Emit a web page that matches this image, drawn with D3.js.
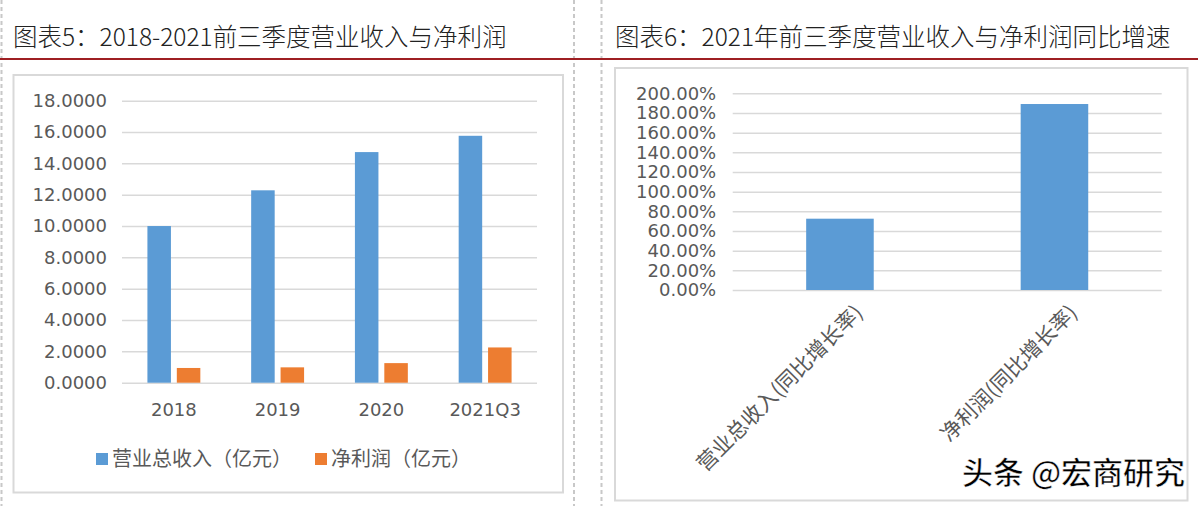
<!DOCTYPE html>
<html>
<head>
<meta charset="utf-8">
<script src="https://cdn.jsdelivr.net/npm/d3@7"></script>
<style>
  body { margin: 0; background: #fff; }
  svg { display: block; }
</style>
</head>
<body>
<svg id="chart" width="1198" height="506"></svg>
<script>
// chart 5: revenue and net profit (亿元)
const years = ["2018", "2019", "2020", "2021Q3"];
const revenue = [10.0, 12.28, 14.72, 15.76];
const netProfit = [0.94, 0.98, 1.25, 2.25];
const leftTicks = [0, 2, 4, 6, 8, 10, 12, 14, 16, 18];
const seriesNames = ["营业总收入（亿元）", "净利润（亿元）"];

// chart 6: yoy growth
const growthCats = ["营业总收入(同比增长率)", "净利润(同比增长率)"];
const growth = [0.725, 1.891];
const rightTicks = [0, 0.2, 0.4, 0.6, 0.8, 1.0, 1.2, 1.4, 1.6, 1.8, 2.0];

const titles = ["图表5：2018-2021前三季度营业收入与净利润", "图表6：2021年前三季度营业收入与净利润同比增速"];

const blue = "#5b9bd5", orange = "#ed7d31";
const grid = "#d9d9d9", labelCol = "#595959";
const cjk = "'Noto Sans CJK SC', sans-serif";
const num = "'DejaVu Sans', sans-serif";

const svg = d3.select("#chart");

// panel frames
[1.5, 574, 601.5].forEach(x => {
  svg.append("line")
    .attr("x1", x).attr("x2", x).attr("y1", 0).attr("y2", 506)
    .attr("stroke", "#c8c8c8").attr("stroke-width", 2)
    .attr("stroke-dasharray", "4,3");
});
svg.append("line")
  .attr("x1", 0).attr("x2", 1198).attr("y1", 59).attr("y2", 59)
  .attr("stroke", "#9e1f23").attr("stroke-width", 2);

svg.append("rect")
  .attr("x", 13.5).attr("y", 75).attr("width", 549.5).attr("height", 417.5)
  .attr("fill", "none").attr("stroke", grid).attr("stroke-width", 2);
svg.append("rect")
  .attr("x", 615).attr("y", 68).attr("width", 572.5).attr("height", 432.5)
  .attr("fill", "none").attr("stroke", grid).attr("stroke-width", 2);

svg.selectAll(".title")
  .data(titles)
  .join("text")
  .attr("class", "title")
  .attr("x", (d, i) => i ? 615 : 13)
  .attr("y", 46)
  .attr("font-family", cjk)
  .attr("font-size", 24.5)
  .attr("font-weight", 300)
  .attr("fill", "#222")
  .text(d => d);

function styleAxis(g) {
  g.select(".domain").remove();
  g.selectAll(".tick line").attr("stroke", grid).attr("stroke-width", 1.5);
  g.selectAll(".tick text").attr("fill", labelCol);
}

// ---------- left chart ----------
const y = d3.scaleLinear().domain([0, 18]).range([382.7, 100.7]);
const x0 = d3.scaleBand().domain(years).range([122, 537])
  .paddingInner(0.49).paddingOuter(0.245);
const x1 = d3.scaleBand().domain([0, 1]).range([0, x0.bandwidth()])
  .paddingInner(0.2);

svg.append("g")
  .attr("transform", "translate(122,0)")
  .call(d3.axisLeft(y).tickValues(leftTicks).tickSize(-415).tickPadding(15)
    .tickFormat(d3.format(".4f")))
  .call(styleAxis)
  .selectAll("text").attr("font-family", num).attr("font-size", 18);

const groups = svg.append("g").selectAll("g")
  .data(years)
  .join("g")
  .attr("transform", d => `translate(${x0(d)},0)`);

groups.selectAll("rect")
  .data((d, i) => [revenue[i], netProfit[i]])
  .join("rect")
  .attr("x", (d, j) => x1(j))
  .attr("width", x1.bandwidth())
  .attr("y", d => y(d))
  .attr("height", d => y(0) - y(d))
  .attr("fill", (d, j) => j ? orange : blue);

svg.append("g")
  .attr("transform", "translate(0,382.7)")
  .call(d3.axisBottom(x0).tickSize(0).tickPadding(21))
  .call(g => g.select(".domain").remove())
  .selectAll("text")
  .attr("fill", labelCol).attr("font-family", num).attr("font-size", 18);

const legend = svg.append("g").selectAll("g")
  .data(seriesNames)
  .join("g")
  .attr("transform", (d, i) => `translate(${i ? 315 : 96},453)`);
legend.append("rect")
  .attr("width", 12).attr("height", 12)
  .attr("fill", (d, i) => i ? orange : blue);
legend.append("text")
  .attr("x", 16).attr("y", 13)
  .attr("font-family", cjk).attr("font-size", 20)
  .attr("fill", labelCol)
  .text(d => d);

// ---------- right chart ----------
const yR = d3.scaleLinear().domain([0, 2]).range([290, 93.3]);
const xR = d3.scaleBand().domain(growthCats).range([732.7, 1161.7])
  .paddingInner(0.685).paddingOuter(0.3425);

svg.append("g")
  .attr("transform", "translate(732.7,0)")
  .call(d3.axisLeft(yR).tickValues(rightTicks).tickSize(-429).tickPadding(16.5)
    .tickFormat(d3.format(".2%")))
  .call(styleAxis)
  .selectAll("text").attr("font-family", num).attr("font-size", 18);

svg.append("g").selectAll("rect")
  .data(growth)
  .join("rect")
  .attr("x", (d, i) => xR(growthCats[i]))
  .attr("width", xR.bandwidth())
  .attr("y", d => yR(d))
  .attr("height", d => yR(0) - yR(d))
  .attr("fill", blue);

svg.append("g").selectAll("text")
  .data(growthCats)
  .join("text")
  .attr("transform", d => `translate(${xR(d) + xR.bandwidth() / 2 + 24},314) rotate(-45)`)
  .attr("text-anchor", "end")
  .attr("font-family", cjk).attr("font-size", 21)
  .attr("fill", labelCol)
  .text(d => d);

// watermark
svg.append("text")
  .attr("x", 962).attr("y", 484)
  .attr("font-family", cjk).attr("font-size", 31)
  .attr("font-weight", 500)
  .attr("fill", "#000")
  .attr("stroke", "#fff").attr("stroke-width", 0.5)
  .text("头条 @宏商研究");
</script>
</body>
</html>
